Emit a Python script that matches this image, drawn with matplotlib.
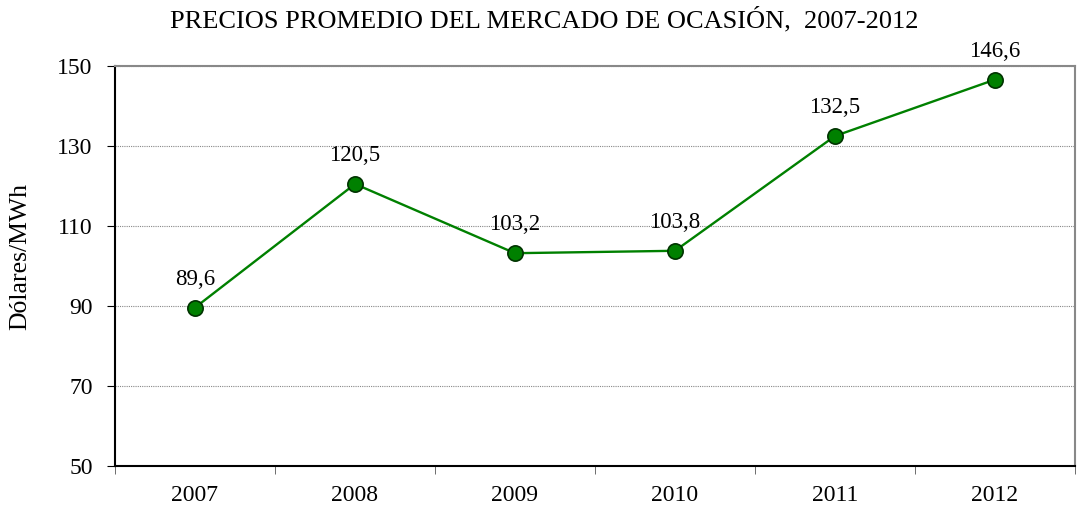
import numpy as np
import matplotlib.pyplot as plt

# Datos del gráfico
anios = ["2007", "2008", "2009", "2010", "2011", "2012"]
precios = [89.6, 120.5, 103.2, 103.8, 132.5, 146.6]
etiquetas = ["89,6", "120,5", "103,2", "103,8", "132,5", "146,6"]
y_ticks = [50, 70, 90, 110, 130, 150]

plt.rcParams['font.family'] = ['Liberation Serif', 'DejaVu Serif']

fig = plt.figure(figsize=(10.88, 5.08), dpi=100)
ax = fig.add_axes([115/1088, 1 - 466/508, 960/1088, 400/508])

x = np.arange(len(anios))
ax.plot(x, precios, color='#008000', lw=1.7, marker='o', ms=11,
        mfc='#008000', mec='#003300', mew=1.2, zorder=3)

for xi, yi, txt in zip(x, precios, etiquetas):
    ax.annotate(txt, (xi, yi), xytext=(0, 13), textcoords='offset points',
                ha='center', va='bottom', fontsize=16.5)

ax.set_xlim(-0.5, len(anios) - 0.5)
ax.set_ylim(50, 150)
ax.set_yticks(y_ticks)
ax.set_xticks(x)
ax.set_xticklabels(anios)
ax.set_xticks(np.arange(-0.5, len(anios)), minor=True)
ax.tick_params(axis='x', which='major', length=0, pad=14, labelsize=17)
ax.tick_params(axis='x', which='minor', length=6, direction='out', color='#555555')
ax.tick_params(axis='y', length=6, direction='out', labelsize=17, pad=10)

ax.grid(axis='y', color='#888888', ls=(0, (1, 1)), lw=0.8)
ax.set_axisbelow(True)

ax.spines['left'].set_color('black')
ax.spines['bottom'].set_color('black')
ax.spines['top'].set_color('#888888')
ax.spines['right'].set_color('#888888')
for s in ax.spines.values():
    s.set_linewidth(1.5)

ax.set_ylabel("Dólares/MWh", fontsize=18.5)
ax.yaxis.set_label_coords(-84/960, 0.525)
fig.text(0.5, 1 - 20/508, "PRECIOS PROMEDIO DEL MERCADO DE OCASIÓN,  2007-2012",
         ha='center', va='center', fontsize=19)

fig.savefig("out.png", dpi=100)
